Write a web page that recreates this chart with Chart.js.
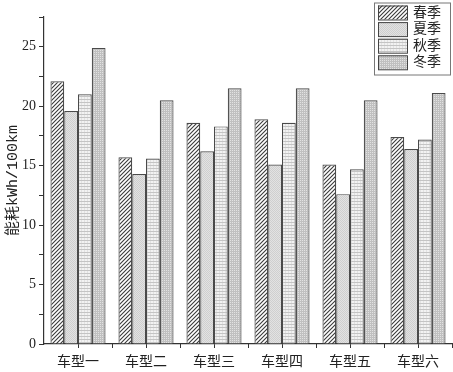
<!DOCTYPE html>
<html>
<head>
<meta charset="utf-8">
<script src="https://cdn.jsdelivr.net/npm/chart.js@4"></script>
<style>
  html, body { margin: 0; padding: 0; background: #fff; }
  #wrap { width: 453px; height: 372px; }
</style>
</head>
<body>
<div id="wrap"><canvas id="energyChart"></canvas></div>
<script>
const carModels = ['车型一', '车型二', '车型三', '车型四', '车型五', '车型六'];
const seasons = ['春季', '夏季', '秋季', '冬季'];
const springValues = [22.1, 15.7, 18.6, 18.9, 15.1, 17.4];
const summerValues = [19.6, 14.3, 16.2, 15.1, 12.6, 16.4];
const autumnValues = [21.0, 15.6, 18.3, 18.6, 14.7, 17.2];
const winterValues = [24.9, 20.5, 21.5, 21.5, 20.5, 21.1];
const yAxisTitle = '能耗kWh/100km';

const serifFont = "'Liberation Serif', 'Noto Sans CJK SC', serif";

// small helper to build fill patterns like the ones in the original figure
function makePattern(size, paint) {
    const c = document.createElement('canvas');
    c.width = size;
    c.height = size;
    const g = c.getContext('2d');
    paint(g, size);
    return g.createPattern(c, 'repeat');
}

const hatchPattern = makePattern(4, function (g, s) {
    g.fillStyle = '#ffffff';
    g.fillRect(0, 0, s, s);
    g.strokeStyle = '#3a3a3a';
    g.lineWidth = 1.1;
    g.beginPath();
    g.moveTo(-1, s + 1); g.lineTo(s + 1, -1);
    g.moveTo(-1, 1); g.lineTo(1, -1);
    g.moveTo(s - 1, s + 1); g.lineTo(s + 1, s - 1);
    g.stroke();
});

const checkerPattern = makePattern(2, function (g) {
    g.fillStyle = '#e2e2e2';
    g.fillRect(0, 0, 2, 2);
    g.fillStyle = '#cfcfcf';
    g.fillRect(0, 0, 1, 1);
    g.fillRect(1, 1, 1, 1);
});

const linePattern = makePattern(3, function (g) {
    g.fillStyle = '#f2f2f2';
    g.fillRect(0, 0, 3, 3);
    g.fillStyle = '#e2e2e2';
    g.fillRect(0, 0, 1, 3);
    g.fillStyle = '#c4c4c4';
    g.fillRect(0, 0, 3, 1);
});

const dotPattern = makePattern(2, function (g) {
    g.fillStyle = '#c0c0c0';
    g.fillRect(0, 0, 2, 2);
    g.fillStyle = '#e2e2e2';
    g.fillRect(0, 0, 1, 1);
});

const fills = [hatchPattern, checkerPattern, linePattern, dotPattern];
const seriesValues = [springValues, summerValues, autumnValues, winterValues];

const datasets = seasons.map((name, i) => ({
    label: name,
    data: seriesValues[i],
    backgroundColor: fills[i],
    borderColor: '#4a4a4a',
    borderWidth: 1.2,
    borderSkipped: 'bottom',
    barPercentage: 1,
    categoryPercentage: 0.81
}));

// boxed legend in the top right corner + minor ticks between categories
const boxLegend = {
    id: 'boxLegend',
    afterDraw(chart) {
        const ctx = chart.ctx;
        const x = chart.scales.x;
        const yBase = chart.chartArea.bottom;

        ctx.save();
        ctx.strokeStyle = '#333';
        ctx.lineWidth = 1;
        ctx.beginPath();
        const half = (x.getPixelForValue(1) - x.getPixelForValue(0)) / 2;
        for (let i = 0; i < carModels.length; i++) {
            const px = Math.round(x.getPixelForValue(i) + half) + 0.5;
            ctx.moveTo(px, yBase);
            ctx.lineTo(px, yBase + 4);
        }
        ctx.stroke();

        const bx = 374, by = 2.5, bw = 76, bh = 72;
        ctx.fillStyle = '#fff';
        ctx.fillRect(bx, by, bw, bh);
        ctx.strokeStyle = '#777';
        ctx.strokeRect(bx + 0.5, by + 0.5, bw, bh);

        ctx.font = '14px ' + serifFont;
        ctx.textBaseline = 'middle';
        chart.data.datasets.forEach((ds, i) => {
            const ry = 5.5 + i * 16.6;
            ctx.fillStyle = ds.backgroundColor;
            ctx.fillRect(378, ry, 29, 14);
            ctx.strokeStyle = '#444';
            ctx.strokeRect(378.5, ry + 0.5, 29, 14);
            ctx.fillStyle = '#222';
            ctx.fillText(ds.label, 413, ry + 7.5);
        });
        ctx.restore();
    }
};

new Chart(document.getElementById('energyChart'), {
    type: 'bar',
    data: {
        labels: carModels,
        datasets: datasets
    },
    options: {
        responsive: true,
        maintainAspectRatio: false,
        animation: false,
        layout: {
            autoPadding: false,
            padding: { top: 17, right: 1, left: 0, bottom: 0 }
        },
        plugins: {
            legend: { display: false },
            tooltip: { enabled: false }
        },
        scales: {
            x: {
                grid: {
                    display: true,
                    offset: false,
                    drawOnChartArea: false,
                    drawTicks: true,
                    tickLength: 4,
                    color: '#333'
                },
                border: { display: true, color: '#333', width: 1.2 },
                ticks: {
                    color: '#222',
                    padding: 6,
                    font: { family: serifFont, size: 14 }
                },
                afterFit(scale) { scale.height = 28; }
            },
            y: {
                min: 0,
                max: 27.5,
                grid: {
                    display: true,
                    drawOnChartArea: false,
                    drawTicks: true,
                    tickLength: 5,
                    color: '#333'
                },
                border: { display: true, color: '#333', width: 1.2 },
                ticks: {
                    stepSize: 2.5,
                    color: '#222',
                    padding: 3,
                    font: { family: serifFont, size: 14 },
                    callback: function (value) {
                        return value % 5 === 0 ? value : '';
                    }
                },
                title: {
                    display: true,
                    text: yAxisTitle,
                    color: '#222',
                    padding: { top: 4, bottom: 2 },
                    font: { family: "'Liberation Mono', 'Noto Sans CJK SC', monospace", size: 15 }
                },
                afterFit(scale) { scale.width = 44; }
            }
        }
    },
    plugins: [boxLegend]
});
</script>
</body>
</html>
